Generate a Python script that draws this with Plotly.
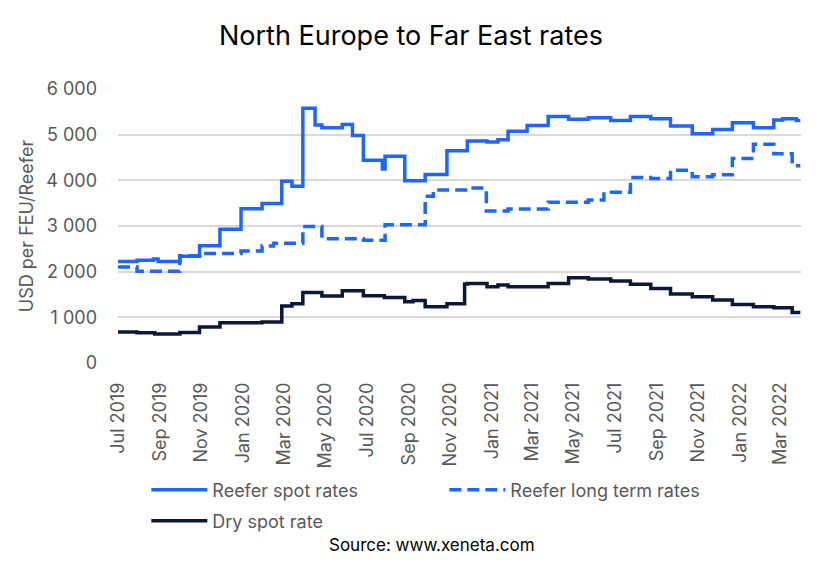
import plotly.graph_objects as go

# step change points (date, USD per FEU)
spot_dates = ['2019-07-01', '2019-07-29', '2019-08-22', '2019-08-29', '2019-09-30',
              '2019-10-29', '2019-11-28', '2019-12-29', '2020-01-29', '2020-02-27',
              '2020-03-13', '2020-03-29', '2020-04-16', '2020-04-26', '2020-05-26',
              '2020-06-10', '2020-06-26', '2020-07-24', '2020-07-28', '2020-08-26',
              '2020-09-25', '2020-10-27', '2020-11-26', '2020-12-25', '2021-01-10',
              '2021-01-25', '2021-02-22', '2021-03-25', '2021-04-24', '2021-05-23',
              '2021-06-25', '2021-07-24', '2021-08-23', '2021-09-21', '2021-10-23',
              '2021-11-22', '2021-12-21', '2022-01-21', '2022-02-20', '2022-03-05',
              '2022-03-25', '2022-03-31']
spot_values = [2220, 2250, 2280, 2220, 2340,
               2570, 2930, 3380, 3490, 3980,
               3870, 5580, 5210, 5150, 5220,
               4980, 4440, 4250, 4530, 3990,
               4130, 4650, 4860, 4840, 4890,
               5075, 5200, 5400, 5340, 5370,
               5310, 5400, 5350, 5190, 5020,
               5115, 5260, 5150, 5320, 5350,
               5310, 5310]

long_dates = ['2019-07-01', '2019-07-29', '2019-09-30', '2019-10-29', '2019-12-29',
              '2020-01-29', '2020-02-15', '2020-03-29', '2020-04-26', '2020-06-26',
              '2020-07-28', '2020-09-25', '2020-10-07', '2020-11-26', '2020-12-24',
              '2021-01-25', '2021-03-25', '2021-05-23', '2021-06-15', '2021-07-24',
              '2021-08-23', '2021-09-21', '2021-10-23', '2021-11-22', '2021-12-21',
              '2022-01-21', '2022-02-20', '2022-03-19', '2022-03-31']
long_values = [2100, 2010, 2350, 2400, 2450,
               2560, 2620, 2990, 2720, 2690,
               3030, 3650, 3790, 3830, 3330,
               3370, 3520, 3570, 3740, 4060,
               4040, 4220, 4080, 4120, 4480,
               4790, 4580, 4320, 4320]

dry_dates = ['2019-07-01', '2019-07-29', '2019-08-24', '2019-09-30', '2019-10-29',
             '2019-11-28', '2020-01-29', '2020-02-27', '2020-03-13', '2020-03-29',
             '2020-04-26', '2020-05-26', '2020-06-26', '2020-07-27', '2020-08-26',
             '2020-09-07', '2020-09-25', '2020-10-27', '2020-11-22', '2020-11-26',
             '2020-12-25', '2021-01-10', '2021-01-25', '2021-03-25', '2021-04-24',
             '2021-05-23', '2021-06-25', '2021-07-24', '2021-08-23', '2021-09-21',
             '2021-10-23', '2021-11-22', '2021-12-21', '2022-01-21', '2022-02-20',
             '2022-03-19', '2022-03-31']
dry_values = [680, 660, 637, 667, 790,
              880, 900, 1250, 1300, 1545,
              1465, 1580, 1470, 1435, 1340,
              1370, 1230, 1300, 1730, 1743,
              1670, 1707, 1670, 1743, 1868,
              1840, 1795, 1722, 1634, 1509,
              1450, 1377, 1282, 1230, 1209,
              1106, 1106]

tick_dates = ['2019-07-01', '2019-09-01', '2019-11-01', '2020-01-01', '2020-03-01',
              '2020-05-01', '2020-07-01', '2020-09-01', '2020-11-01', '2021-01-01',
              '2021-03-01', '2021-05-01', '2021-07-01', '2021-09-01', '2021-11-01',
              '2022-01-01', '2022-03-01']

blue = '#1F66FF'
navy = '#0C1838'
grey = '#595959'
font_name = 'Inter, Lato, sans-serif'

fig = go.Figure()

fig.add_trace(go.Scatter(x=spot_dates, y=spot_values, name='Reefer spot rates',
                         mode='lines', line=dict(color=blue, width=3.5, shape='hv')))
fig.add_trace(go.Scatter(x=long_dates, y=long_values, name='Reefer long term rates',
                         mode='lines', line=dict(color=blue, width=3.5, shape='hv', dash='12px,6px')))
fig.add_trace(go.Scatter(x=dry_dates, y=dry_values, name='Dry spot rate', legend='legend2',
                         mode='lines', line=dict(color=navy, width=3.5, shape='hv')))

fig.update_xaxes(type='date', range=['2019-07-01', '2022-04-01'], automargin=False,
                 tickvals=tick_dates, tickformat='%b %Y', tickangle=-90,
                 tickfont=dict(size=18, color=grey), showgrid=False,
                 showline=False, zeroline=False, ticks='', ticklabelstandoff=15)

fig.update_yaxes(range=[0, 6000], dtick=1000, tickformat=',d', automargin=False,
                 tickfont=dict(size=18, color=grey), gridcolor='#D9D9D9', gridwidth=1.5,
                 zeroline=False, showline=False, ticklabelstandoff=20,
                 title=dict(text='USD per FEU/Reefer', font=dict(size=18, color=grey), standoff=7))

fig.add_annotation(text='Source: www.xeneta.com', xref='paper', yref='paper',
                   x=0.46, y=-0.708, showarrow=False,
                   font=dict(size=17, color='#000000'))

legend_style = dict(orientation='h', xref='container', yref='container',
                    xanchor='left', yanchor='middle', font=dict(size=18, color=grey),
                    itemwidth=56, bgcolor='rgba(0,0,0,0)')

fig.update_layout(
    width=822, height=567,
    title=dict(text='North Europe to Far East rates', x=0.5, xref='container',
               y=0.938, yref='container', yanchor='middle', font=dict(size=27, color='#000000')),
    font=dict(family=font_name),
    separators=', ',
    plot_bgcolor='white', paper_bgcolor='white',
    margin=dict(l=118, r=21, t=89, b=204),
    showlegend=True,
    legend=dict(legend_style, x=0.178, y=1 - 490 / 567,
                entrywidth=227, entrywidthmode='pixels'),
    legend2=dict(legend_style, x=0.178, y=1 - 521 / 567),
)

fig.write_html('out.html', config={'displayModeBar': False},
               post_script="document.body.style.margin='0';")
